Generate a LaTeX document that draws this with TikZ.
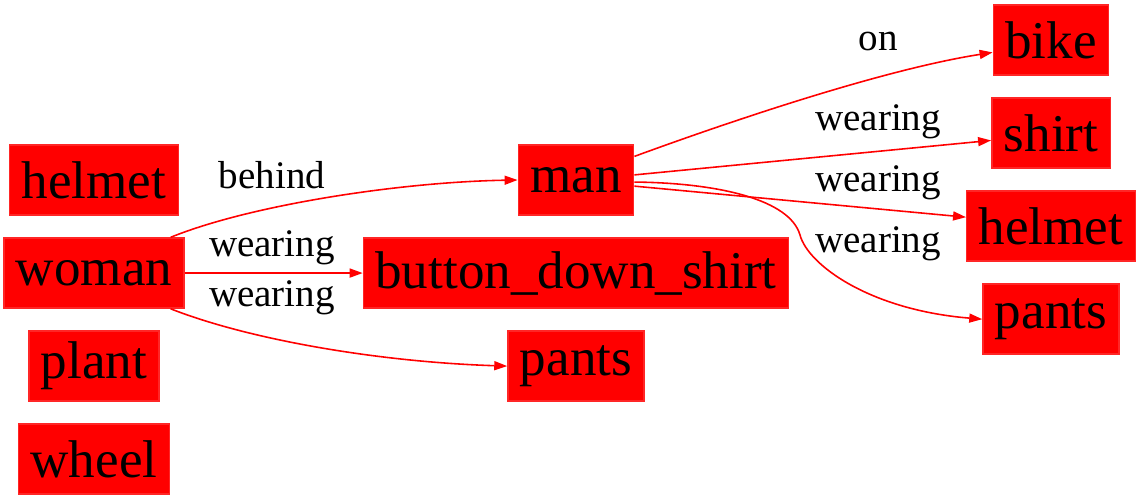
\documentclass[tikz,border=0pt]{standalone}
\usepackage{fontspec}
\setmainfont{Liberation Serif}
\usepackage{tikz}
\usetikzlibrary{arrows.meta}
\usetikzlibrary{positioning,calc}

\begin{document}
\begin{tikzpicture}[x=0.01cm, y=-0.01cm, node distance=0.93cm]
	%defines
	\tikzstyle{object} = [rectangle, minimum height=0.7cm, inner xsep=0.12cm, inner ysep=0pt, text centered, fill=red, draw=red!85!white, font=\fontsize{15.1}{16}\selectfont]
	\tikzstyle{relation} = [inner sep=0pt, font=\fontsize{11.1}{12}\selectfont]
	\tikzstyle{arrow} = [red, line width=0.45pt, ->, >={Triangle[length=0.13cm, width=0.09cm]}]
	\useasboundingbox (0,0) rectangle (1140,500);
	%chart
	\node (helmetLeft) [object] at (94,180) {helmet};
	\node (woman) [object, below of=helmetLeft] {woman};
	\node (plant) [object, below of=woman] {plant};
	\node (wheel) [object, below of=plant] {wheel};
	\node (man) [object] at (576,180) {man};
	\node (buttonDownShirt) [object, below of=man] {button\_down\_shirt};
	\node (pantsMid) [object, below of=buttonDownShirt] {pants};
	\node (bike) [object] at (1051,40) {bike};
	\node (shirt) [object, below of=bike] {shirt};
	\node (helmetRight) [object, below of=shirt] {helmet};
	\node (pantsRight) [object, below of=helmetRight] {pants};
	%labels
	\node (behindLabel) [relation] at (272,175) {behind};
	\node (wearingShirtLabel) [relation] at (272,248) {wearing};
	\node (wearingPantsLabel) [relation] at (272,298) {wearing};
	\node (onLabel) [relation] at (878,41) {on};
	\node (wearingShirtManLabel) [relation] at (878,122) {wearing};
	\node (wearingHelmetLabel) [relation] at (878,183) {wearing};
	\node (wearingPantsManLabel) [relation] at (878,244) {wearing};
	%edges
	\draw [arrow] (woman.25) .. controls (250,205) and (400,182) .. (man.west);
	\draw [arrow] (woman.east) -- (buttonDownShirt.west);
	\draw [arrow] (woman.-25) .. controls (250,340) and (380,362) .. (pantsMid.west);
	\draw [arrow] (man.22) .. controls (720,125) and (880,70) .. (bike.192);
	\draw [arrow] (man.5) -- (shirt.187);
	\draw [arrow] (man.-6) -- (helmetRight.174);
	\draw [arrow] (man.-2) .. controls (720,183) and (790,200) .. (800,235) .. controls (808,265) and (870,310) .. (pantsRight.west);
\end{tikzpicture}
\end{document}
